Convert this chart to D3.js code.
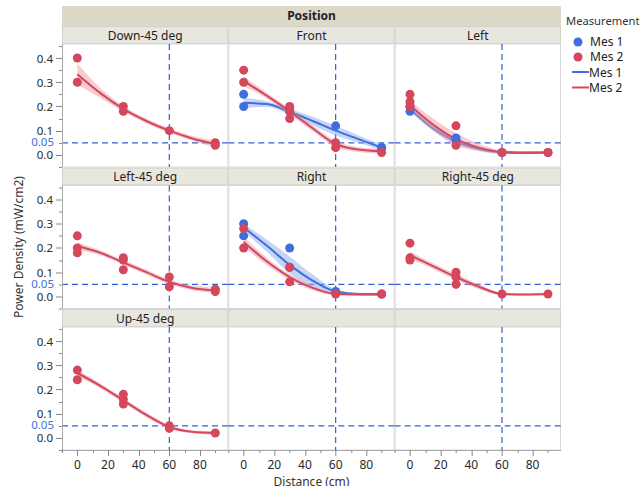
<!DOCTYPE html>
<html>
<head>
<meta charset="utf-8">
<script src="https://cdn.jsdelivr.net/npm/d3@7"></script>
<style>
  body { margin: 0; background: #fff; }
  svg { font-family: "Noto Sans", "DejaVu Sans", sans-serif; }
</style>
</head>
<body>
<svg id="chart" width="642" height="486"></svg>
<script>
// ==================== DATA ====================
const positions = ["Down-45 deg", "Front", "Left", "Left-45 deg", "Right", "Right-45 deg", "Up-45 deg", "", ""];
const series = ["Mes 1", "Mes 2"];
const xTicks = [0, 20, 40, 60, 80];
const yTicks = [0.0, 0.1, 0.2, 0.3, 0.4];
const refDistance = 60;
const refPower = 0.05;

// observed points [position, distance, power]
const mes1Points = [
  ["Front", 0, 0.25], ["Front", 0, 0.20], ["Front", 30, 0.19], ["Front", 30, 0.18],
  ["Front", 60, 0.12], ["Front", 90, 0.03], ["Front", 90, 0.03],
  ["Left", 0, 0.18], ["Left", 0, 0.20], ["Left", 30, 0.07], ["Left", 30, 0.06],
  ["Left", 60, 0.01], ["Left", 90, 0.01],
  ["Right", 0, 0.30], ["Right", 0, 0.25], ["Right", 30, 0.20], ["Right", 30, 0.12],
  ["Right", 60, 0.02], ["Right", 90, 0.01],
];
const mes2Points = [
  ["Down-45 deg", 0, 0.40], ["Down-45 deg", 0, 0.30], ["Down-45 deg", 30, 0.20], ["Down-45 deg", 30, 0.18],
  ["Down-45 deg", 60, 0.10], ["Down-45 deg", 90, 0.05], ["Down-45 deg", 90, 0.04],
  ["Front", 0, 0.35], ["Front", 0, 0.30], ["Front", 30, 0.20], ["Front", 30, 0.18], ["Front", 30, 0.15],
  ["Front", 60, 0.05], ["Front", 60, 0.03], ["Front", 90, 0.01],
  ["Left", 0, 0.25], ["Left", 0, 0.22], ["Left", 0, 0.20], ["Left", 30, 0.12], ["Left", 30, 0.04],
  ["Left", 60, 0.01], ["Left", 90, 0.01],
  ["Left-45 deg", 0, 0.25], ["Left-45 deg", 0, 0.20], ["Left-45 deg", 0, 0.18], ["Left-45 deg", 30, 0.16],
  ["Left-45 deg", 30, 0.15], ["Left-45 deg", 30, 0.11], ["Left-45 deg", 60, 0.08], ["Left-45 deg", 60, 0.04],
  ["Left-45 deg", 90, 0.03], ["Left-45 deg", 90, 0.02],
  ["Right", 0, 0.28], ["Right", 0, 0.20], ["Right", 30, 0.12], ["Right", 30, 0.06],
  ["Right", 60, 0.01], ["Right", 90, 0.01],
  ["Right-45 deg", 0, 0.22], ["Right-45 deg", 0, 0.16], ["Right-45 deg", 0, 0.15], ["Right-45 deg", 30, 0.10],
  ["Right-45 deg", 30, 0.08], ["Right-45 deg", 30, 0.05], ["Right-45 deg", 60, 0.01], ["Right-45 deg", 90, 0.01],
  ["Up-45 deg", 0, 0.28], ["Up-45 deg", 0, 0.24], ["Up-45 deg", 30, 0.18], ["Up-45 deg", 30, 0.16],
  ["Up-45 deg", 30, 0.14], ["Up-45 deg", 60, 0.05], ["Up-45 deg", 60, 0.04], ["Up-45 deg", 90, 0.02],
];

// smoother fit with confidence band, read at these distances
const fitDistance = [0, 15, 30, 45, 60, 75, 90];
const mes1Fits = [
  { pos: "Front", v: [0.215, 0.21, 0.178, 0.14, 0.10, 0.065, 0.03],
    lo: [0.195, 0.198, 0.166, 0.122, 0.08, 0.05, 0.018], hi: [0.235, 0.222, 0.19, 0.158, 0.12, 0.08, 0.042] },
  { pos: "Left", v: [0.19, 0.11, 0.055, 0.025, 0.01, 0.008, 0.01],
    lo: [0.18, 0.10, 0.045, 0.017, 0.005, 0.003, 0.005], hi: [0.20, 0.12, 0.065, 0.033, 0.015, 0.013, 0.015] },
  { pos: "Right", v: [0.285, 0.21, 0.13, 0.065, 0.02, 0.01, 0.01],
    lo: [0.27, 0.185, 0.095, 0.04, 0.01, 0.005, 0.005], hi: [0.30, 0.235, 0.165, 0.09, 0.03, 0.015, 0.015] },
];
const mes2Fits = [
  { pos: "Down-45 deg", v: [0.333, 0.255, 0.19, 0.14, 0.10, 0.068, 0.045],
    lo: [0.29, 0.236, 0.178, 0.13, 0.09, 0.058, 0.03], hi: [0.378, 0.275, 0.202, 0.15, 0.11, 0.078, 0.06] },
  { pos: "Front", v: [0.305, 0.245, 0.18, 0.11, 0.045, 0.022, 0.015],
    lo: [0.285, 0.233, 0.168, 0.098, 0.033, 0.012, 0.005], hi: [0.325, 0.257, 0.192, 0.122, 0.057, 0.032, 0.025] },
  { pos: "Left", v: [0.205, 0.125, 0.065, 0.03, 0.012, 0.01, 0.01],
    lo: [0.185, 0.10, 0.04, 0.015, 0.004, 0.005, 0.005], hi: [0.225, 0.15, 0.09, 0.045, 0.02, 0.015, 0.015] },
  { pos: "Left-45 deg", v: [0.208, 0.18, 0.14, 0.10, 0.06, 0.035, 0.025],
    lo: [0.193, 0.17, 0.13, 0.09, 0.05, 0.025, 0.013], hi: [0.223, 0.19, 0.15, 0.11, 0.07, 0.045, 0.037] },
  { pos: "Right", v: [0.225, 0.145, 0.08, 0.035, 0.01, 0.008, 0.008],
    lo: [0.205, 0.13, 0.068, 0.025, 0.004, 0.003, 0.003], hi: [0.245, 0.16, 0.092, 0.045, 0.016, 0.013, 0.013] },
  { pos: "Right-45 deg", v: [0.17, 0.125, 0.08, 0.04, 0.01, 0.008, 0.01],
    lo: [0.155, 0.113, 0.068, 0.03, 0.005, 0.003, 0.005], hi: [0.185, 0.137, 0.092, 0.05, 0.015, 0.013, 0.015] },
  { pos: "Up-45 deg", v: [0.268, 0.215, 0.155, 0.095, 0.045, 0.025, 0.02],
    lo: [0.256, 0.205, 0.145, 0.085, 0.037, 0.019, 0.012], hi: [0.28, 0.225, 0.165, 0.105, 0.053, 0.031, 0.028] },
];

// ==================== LAYOUT ====================
const colors = { "Mes 1": "#3f6fdc", "Mes 2": "#d5475a" };
const bandColors = { "Mes 1": "#8eaaf0", "Mes 2": "#eb9aa6" };
const refColor = "#2f62d6";
const left = 62, right = 561;
const colW = (right - left) / 3;
const rowTop0 = 26, rowPitch = 141.5, stripH = 18, plotH = 123;

const svg = d3.select("#chart");

const x = d3.scaleLinear().domain([-10, 98.5]).range([0, colW]);
const y = d3.scaleLinear().domain([-0.05, 0.458]).range([plotH, 0]);

// Position header
svg.append("rect").attr("x", left).attr("y", 6).attr("width", right - left).attr("height", rowTop0 - 6)
  .attr("fill", "#dcd9c9");
svg.append("text").attr("x", (left + right) / 2).attr("y", 20).attr("text-anchor", "middle")
  .attr("font-size", 12).attr("font-weight", "bold").attr("fill", "#222").text("Position");

const line = d3.line().x((d) => x(d[0])).y((d) => y(d[1])).curve(d3.curveMonotoneX);
const area = d3.area().x((d) => x(d[0])).y0((d) => y(d[1])).y1((d) => y(d[2])).curve(d3.curveMonotoneX);

positions.forEach((pos, i) => {
  const r = Math.floor(i / 3), c = i % 3;
  const px = left + c * colW;
  const stripY = rowTop0 + r * rowPitch;
  const py = stripY + stripH;

  // strip
  svg.append("rect").attr("x", px + 0.5).attr("y", stripY + 0.5).attr("width", colW - 1).attr("height", stripH - 1)
    .attr("fill", "#e8e7df").attr("stroke", "#d3d1c6");
  svg.append("text").attr("x", px + colW / 2).attr("y", stripY + 13.5).attr("text-anchor", "middle")
    .attr("font-size", 12).attr("fill", "#222").text(pos);

  const g = svg.append("g").attr("transform", `translate(${px},${py})`);
  g.append("rect").attr("x", 0.5).attr("y", 0).attr("width", colW - 1).attr("height", plotH)
    .attr("fill", "#fff").attr("stroke", "#d9d9d9");

  // reference lines
  g.append("line").attr("x1", 0).attr("x2", colW).attr("y1", y(refPower)).attr("y2", y(refPower))
    .attr("stroke", refColor).attr("stroke-width", 1.2).attr("stroke-dasharray", "6,4");
  g.append("line").attr("x1", x(refDistance)).attr("x2", x(refDistance)).attr("y1", 0).attr("y2", plotH)
    .attr("stroke", refColor).attr("stroke-width", 1.2).attr("stroke-dasharray", "6,4");

  // fits
  [[mes1Fits, "Mes 1"], [mes2Fits, "Mes 2"]].forEach(([fits, s]) => {
    const f = fits.find((d) => d.pos === pos);
    if (!f) return;
    const band = fitDistance.map((d, k) => [d, f.lo[k], f.hi[k]]);
    const pts = fitDistance.map((d, k) => [d, f.v[k]]);
    g.append("path").attr("d", area(band)).attr("fill", bandColors[s]).attr("fill-opacity", 0.5);
    g.append("path").attr("d", line(pts)).attr("fill", "none").attr("stroke", colors[s]).attr("stroke-width", 2);
  });

  // points
  [[mes1Points, "Mes 1"], [mes2Points, "Mes 2"]].forEach(([pts, s]) => {
    g.selectAll(null).data(pts.filter((d) => d[0] === pos)).enter().append("circle")
      .attr("cx", (d) => x(d[1])).attr("cy", (d) => y(d[2])).attr("r", 4.5)
      .attr("fill", colors[s]);
  });

  // y axis on first column
  if (c === 0) {
    const ya = g.append("g");
    ya.append("line").attr("x1", 0.5).attr("x2", 0.5).attr("y1", 0).attr("y2", plotH).attr("stroke", "#a9a9a9");
    d3.range(-0.05, 0.46, 0.05).forEach((t) => {
      const major = yTicks.some((v) => Math.abs(v - t) < 1e-6);
      ya.append("line").attr("x1", major ? -6 : -3).attr("x2", 0).attr("y1", Math.round(y(t)) + 0.5)
        .attr("y2", Math.round(y(t)) + 0.5).attr("stroke", "#888");
    });
    ya.selectAll(".yl").data(yTicks).enter().append("text").attr("x", -9).attr("y", (d) => y(d) + 4.5)
      .attr("text-anchor", "end").attr("font-size", 11.5).attr("fill", "#2a2a2a").text((d) => d.toFixed(1));
    ya.append("text").attr("x", -8).attr("y", y(refPower) + 3.5).attr("text-anchor", "end")
      .attr("font-size", 11.5).attr("fill", "#3f6fdc").text(refPower.toFixed(2));
  }

  // x axis on last row
  if (r === 2) {
    const xa = g.append("g").attr("transform", `translate(0,${plotH})`);
    xa.append("line").attr("x1", 0).attr("x2", colW).attr("y1", 0.5).attr("y2", 0.5).attr("stroke", "#a9a9a9");
    d3.range(-10, 100, 10).forEach((t) => {
      const major = xTicks.includes(t);
      xa.append("line").attr("x1", Math.round(x(t)) + 0.5).attr("x2", Math.round(x(t)) + 0.5)
        .attr("y1", 0).attr("y2", major ? 6 : 3).attr("stroke", "#888");
    });
    xa.selectAll(".xl").data(xTicks).enter().append("text").attr("x", (d) => x(d)).attr("y", 19)
      .attr("text-anchor", "middle").attr("font-size", 12).attr("fill", "#2a2a2a").text((d) => d);
  }
});

// axis titles
svg.append("text").attr("transform", `translate(23,${(rowTop0 + stripH + 2 * rowPitch + plotH + rowTop0 + stripH) / 2}) rotate(-90)`)
  .attr("text-anchor", "middle").attr("font-size", 12).attr("fill", "#333").text("Power Density (mW/cm2)");
svg.append("text").attr("x", (left + right) / 2).attr("y", 486).attr("text-anchor", "middle")
  .attr("font-size", 12).attr("fill", "#333").text("Distance (cm)");

// ==================== LEGEND ====================
const lg = svg.append("g").attr("transform", "translate(566,0)");
lg.append("text").attr("x", 0).attr("y", 25).attr("font-size", 11.2).attr("fill", "#333").text("Measurement");
series.forEach((s, k) => {
  lg.append("circle").attr("cx", 12).attr("cy", 42 + k * 15).attr("r", 4.5).attr("fill", colors[s]);
  lg.append("text").attr("x", 24).attr("y", 46 + k * 15).attr("font-size", 12).attr("fill", "#222").text(s);
  lg.append("line").attr("x1", 6).attr("x2", 23).attr("y1", 72 + k * 15.5).attr("y2", 72 + k * 15.5)
    .attr("stroke", colors[s]).attr("stroke-width", 2);
  lg.append("text").attr("x", 23).attr("y", 76.5 + k * 15.5).attr("font-size", 12).attr("fill", "#222").text(s);
});
</script>
</body>
</html>
